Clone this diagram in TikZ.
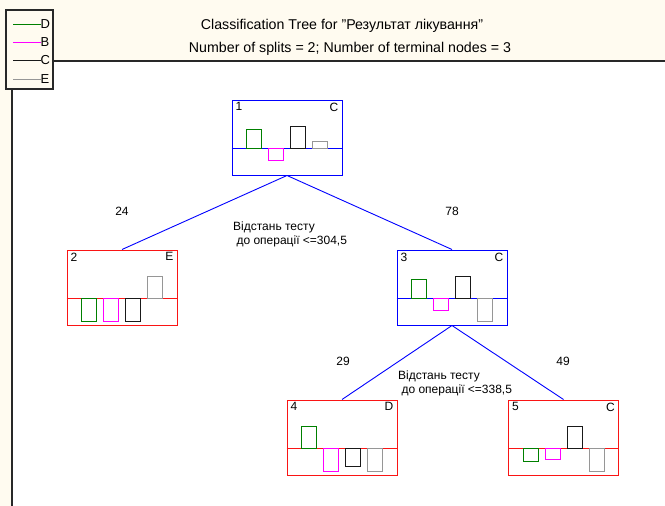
\documentclass[tikz,border=0pt]{standalone}
\usepackage{fontspec}
\setmainfont{Liberation Sans}
\definecolor{cream}{RGB}{255,251,240}
\definecolor{treeblue}{RGB}{0,0,255}
\definecolor{treered}{RGB}{250,20,20}
\definecolor{bgreen}{RGB}{0,128,0}
\definecolor{bmag}{RGB}{255,0,255}
\definecolor{bblack}{RGB}{25,25,25}
\definecolor{bgray}{RGB}{150,150,150}
\definecolor{rulec}{RGB}{40,40,40}
\tikzset{
  treebox/.style={draw, line width=1pt, minimum width=110pt, minimum height=75pt, inner sep=0pt},
  bluebox/.style={treebox, draw=treeblue},
  redbox/.style={treebox, draw=treered},
  edge/.style={draw=treeblue, line width=0.9pt},
  bar/.style={line width=1pt},
  lbl/.style={inner sep=0pt, font=\fontsize{12}{14}\selectfont},
  leglbl/.style={inner sep=0pt, font=\fontsize{13}{15}\selectfont},
  rulel/.style={draw=rulec, line width=1.2pt},
}
\newcommand\nodebars[5]{%
  \begin{scope}[shift={(#1.north west)}]
    \draw[bar, bgreen] (15,49) rectangle (30,{49-#2});
    \draw[bar, bmag] (37,49) rectangle (52,{49-#3});
    \draw[bar, bblack] (59,49) rectangle (74,{49-#4});
    \draw[bar, bgray] (81,49) rectangle (96,{49-#5});
  \end{scope}}
\newcommand\nodemid[2]{%
  \draw[line width=1pt, #2] ([yshift=-49pt]#1.north west) -- ([yshift=-49pt]#1.north east);}
\newcommand\nodetags[3]{%
  \node[lbl, anchor=north west] (#1num) at ([shift={(4pt,-3pt)}]#1.north west) {#2};
  \node[lbl, anchor=north east] (#1cls) at ([shift={(-4pt,-3pt)}]#1.north east) {#3};}
\begin{document}
\begin{tikzpicture}[x=1pt,y=-1pt]
\useasboundingbox (0,0) rectangle (665,506);
\fill[cream] (0,0) rectangle (665,61);
\fill[cream] (0,0) rectangle (12,506);
% legend
\node[draw=rulec, line width=1.1pt, fill=cream, minimum width=47pt, minimum height=79pt, inner sep=0pt] (leg) at (29.5,49.5) {};
\coordinate (rs) at (53,61);
\coordinate (re) at (665,61);
\draw[rulel] (rs) -- (re);
\coordinate (vs) at (12,89);
\coordinate (ve) at (12,506);
\draw[rulel] (vs) -- (ve);
\node[leglbl, anchor=west] (legD) at (40.5,24) {D};
\node[leglbl, anchor=west] (legB) at (40.5,42) {B};
\node[leglbl, anchor=west] (legC) at (40.5,60) {C};
\node[leglbl, anchor=west] (legE) at (40.5,79) {E};
\coordinate (ldD) at (13,24);
\coordinate (ldB) at (13,42);
\coordinate (ldC) at (13,60);
\coordinate (ldE) at (13,79);
\draw[bar, bgreen] (ldD) -- (legD.west);
\draw[bar, bmag] (ldB) -- (legB.west);
\draw[bar, bblack] (ldC) -- (legC.west);
\draw[bar, bgray] (ldE) -- (legE.west);
% title
\node[lbl, font=\fontsize{14.2}{17}\selectfont] (t1) at (342,26) {Classification Tree for \symbol{34}Результат лікування\symbol{34}};
\node[lbl, font=\fontsize{14.2}{17}\selectfont] (t2) at (350,49) {Number of splits = 2; Number of terminal nodes = 3};
% tree nodes
\node[bluebox] (n1) at (287,137.5) {};
\node[redbox] (n2) at (122,287.5) {};
\node[bluebox] (n3) at (452,287.5) {};
\node[redbox] (n4) at (342,437.5) {};
\node[redbox] (n5) at (563.5,437.5) {};
% edges
\draw[edge] (n1.south) -- (n2.north);
\draw[edge] (n1.south) -- (n3.north);
\draw[edge] (n3.south) -- (n4.north);
\draw[edge] (n3.south) -- (n5.north);
% mid lines
\nodemid{n1}{treeblue}
\nodemid{n2}{treered}
\nodemid{n3}{treeblue}
\nodemid{n4}{treered}
\nodemid{n5}{treered}
% bars
\nodebars{n1}{19}{-12}{22}{7}
\nodebars{n2}{-23}{-23}{-23}{22}
\nodebars{n3}{19}{-12}{22}{-23}
\nodebars{n4}{22}{-23}{-18}{-23}
\nodebars{n5}{-13}{-11}{22}{-23}
% tags
\nodetags{n1}{1}{C}
\nodetags{n2}{2}{E}
\nodetags{n3}{3}{C}
\nodetags{n4}{4}{D}
\nodetags{n5}{5}{C}
% split labels
\node[lbl] (c24) at (122,211) {24};
\node[lbl] (c78) at (452,211) {78};
\node[lbl, anchor=north west, align=left] (s1) at (233,222) {Відстань тесту\\\ до операції <=304,5};
\node[lbl] (c29) at (343,361) {29};
\node[lbl] (c49) at (563,361) {49};
\node[lbl, anchor=north west, align=left] (s2) at (398,371) {Відстань тесту\\\ до операції <=338,5};
\end{tikzpicture}
\end{document}
